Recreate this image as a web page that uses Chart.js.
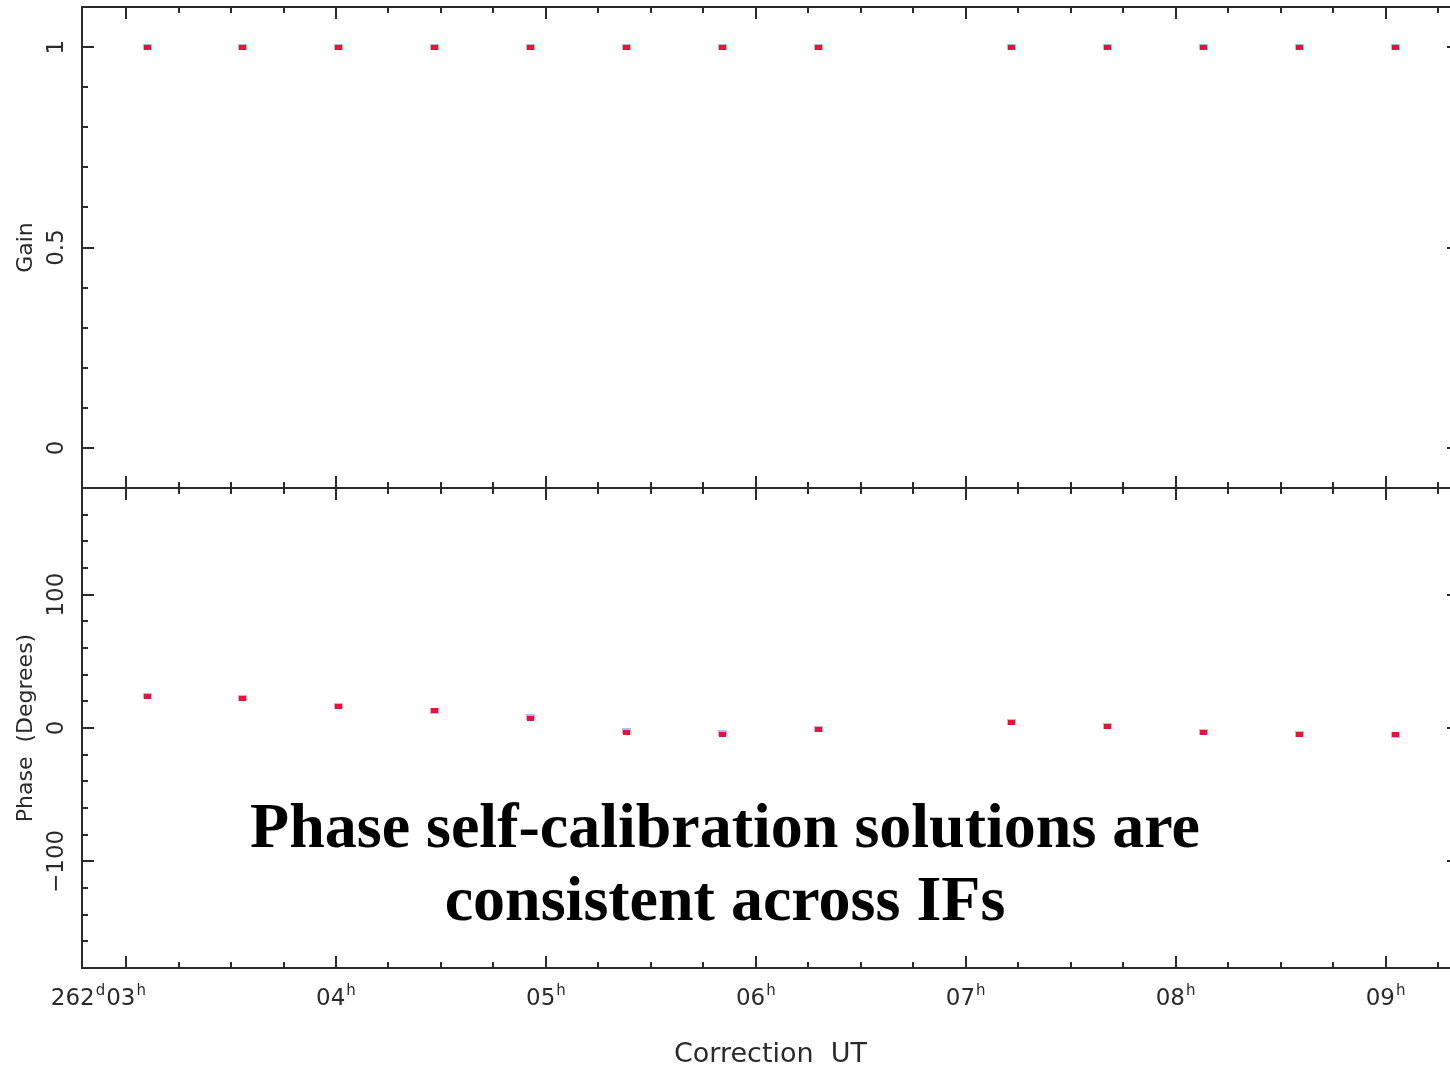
<!DOCTYPE html>
<html><head><meta charset="utf-8">
<script src="https://cdn.jsdelivr.net/npm/chart.js@4.4.1/dist/chart.umd.min.js"></script>
<style>
html,body{margin:0;padding:0;background:#fff;overflow:hidden;}
#wrap{position:relative;width:1450px;height:1067px;overflow:hidden;background:#fff;}
#wrap canvas{position:absolute;left:0;top:0;}
#cap{position:absolute;left:0;width:1450px;top:789px;text-align:center;font-family:"Liberation Serif","Times New Roman",serif;font-weight:bold;font-size:64px;line-height:73px;color:#000;}
</style></head>
<body>
<div id="wrap">
<canvas id="gainChart" width="1480" height="1067"></canvas>
<canvas id="phaseChart" width="1480" height="1067"></canvas>
<div id="cap">Phase self-calibration solutions are<br>consistent across IFs</div>
</div>
<script>
// ---- data (hours UT on day 262) ----
const times    = [3.100, 3.557, 4.014, 4.471, 4.929, 5.386, 5.843, 6.300, 7.219, 7.676, 8.133, 8.590, 9.048];
const gainIF1  = [1, 1, 1, 1, 1, 1, 1, 1, 1, 1, 1, 1, 1];
const gainIF2  = [1, 1, 1, 1, 1, 1, 1, 1, 1, 1, 1, 1, 1];
const phaseIF1 = [23.8, 22.3, 16.2, 12.6, 8.3, -2.5, -4.0, -0.8, 4.6, 1.8, -3.0, -4.2, -4.9];
const phaseIF2 = [23.5, 21.8, 16.0, 12.8, 7.5, -3.0, -4.5, -1.0, 4.3, 1.5, -3.2, -4.7, -4.7];

// ---- axis labelling ----
const hourTicks   = [3, 4, 5, 6, 7, 8, 9];
const hourLabels  = ['03', '04', '05', '06', '07', '08', '09'];
const dayPrefix   = '262';
const gainTicks   = [0, 0.5, 1];
const gainLabels  = ['0', '0.5', '1'];
const phaseTicks  = [-100, 0, 100];
const phaseLabels = ['\u2212100', '0', '100'];
const xTitle = 'Correction  UT';
const gainTitle = 'Gain';
const phaseTitle = 'Phase  (Degrees)';

const X_MIN = 2.79, X_MAX = 9.35;
const INK = '#2a2a2a';
const FONT = '"DejaVu Sans", sans-serif';

function toPts(ys){ return times.map((t,i)=>({x:t, y:ys[i]})); }

function markImg(w, h, color){
  const c = document.createElement('canvas');
  c.width = w; c.height = h;
  const g = c.getContext('2d');
  g.fillStyle = color; g.fillRect(0, 0, w, h);
  return c;
}
const redMark  = markImg(7, 5, '#ee1133');
const blueMark = markImg(9, 6, 'rgba(90,90,240,0.45)');

function framePlugin(cfg){
  return {
    id: 'frame_' + cfg.name,
    afterDraw(chart){
      const ctx = chart.ctx, a = chart.chartArea;
      const xs = chart.scales.x, ys = chart.scales.y;
      ctx.save();
      ctx.strokeStyle = INK; ctx.lineWidth = 2;
      ctx.strokeRect(a.left, a.top, a.right - a.left, a.bottom - a.top);
      ctx.beginPath();
      for (let k = Math.ceil(X_MIN*4); k <= Math.floor(X_MAX*4); k++){
        const px = Math.round(xs.getPixelForValue(k/4));
        const len = (k % 4 === 0) ? 12 : 6;
        ctx.moveTo(px, a.top); ctx.lineTo(px, a.top + len);
        ctx.moveTo(px, a.bottom); ctx.lineTo(px, a.bottom - len);
      }
      for (let k = cfg.kMin; k <= cfg.kMax; k++){
        const v = k * cfg.minor;
        const py = Math.round(ys.getPixelForValue(v));
        const len = (k % cfg.majorEvery === 0) ? 12 : 6;
        ctx.moveTo(a.left, py); ctx.lineTo(a.left + len, py);
        ctx.moveTo(a.right, py); ctx.lineTo(a.right - len, py);
      }
      ctx.stroke();

      ctx.fillStyle = INK;
      ctx.textAlign = 'center'; ctx.textBaseline = 'middle';
      ctx.font = '23px ' + FONT;
      cfg.ticks.forEach((v,i)=>{
        const py = ys.getPixelForValue(v);
        ctx.save(); ctx.translate(57, py); ctx.rotate(-Math.PI/2);
        ctx.fillText(cfg.labels[i], 0, 0); ctx.restore();
      });
      ctx.font = '22px ' + FONT;
      ctx.save(); ctx.translate(26, (a.top + a.bottom)/2); ctx.rotate(-Math.PI/2);
      ctx.fillText(cfg.title, 0, 0); ctx.restore();

      if (cfg.xLabels){
        ctx.textAlign = 'left'; ctx.textBaseline = 'alphabetic';
        const base = a.bottom + 37;
        hourTicks.forEach((h,i)=>{
          const px = xs.getPixelForValue(h);
          ctx.font = '23px ' + FONT; const w1 = ctx.measureText(hourLabels[i]).width;
          ctx.font = '15px ' + FONT; const w2 = ctx.measureText('h').width;
          const x0 = px - (w1 + 1 + w2)/2;
          ctx.font = '23px ' + FONT; ctx.fillText(hourLabels[i], x0, base);
          ctx.font = '15px ' + FONT; ctx.fillText('h', x0 + w1 + 1, base - 10);
          if (i === 0){
            ctx.font = '15px ' + FONT; const wd = ctx.measureText('d').width;
            ctx.fillText('d', x0 - 1 - wd, base - 10);
            ctx.font = '23px ' + FONT; const wp = ctx.measureText(dayPrefix).width;
            ctx.fillText(dayPrefix, x0 - 2 - wd - wp, base);
          }
        });
        ctx.font = '27px ' + FONT; ctx.textAlign = 'center';
        ctx.fillText(xTitle, (a.left + a.right)/2, a.bottom + 94);
      }
      ctx.restore();
    }
  };
}

function makeChart(id, d1, d2, yMin, yMax, padTop, padBottom, cfg){
  return new Chart(document.getElementById(id), {
    type: 'scatter',
    data: { datasets: [
      { data: toPts(d2), pointStyle: redMark, order: 1 },
      { data: toPts(d1), pointStyle: blueMark, order: 2 }
    ]},
    options: {
      responsive: false, animation: false, devicePixelRatio: 1,
      layout: { padding: { left: 82, right: 21, top: padTop, bottom: padBottom } },
      plugins: { legend: { display: false }, tooltip: { enabled: false } },
      scales: {
        x: { type: 'linear', display: false, min: X_MIN, max: X_MAX },
        y: { type: 'linear', display: false, min: yMin, max: yMax }
      }
    },
    plugins: [framePlugin(cfg)]
  });
}

makeChart('gainChart', gainIF1, gainIF2, -0.1, 1.1, 7, 1067 - 488,
  { name: 'g', kMin: -1, kMax: 11, minor: 0.1, majorEvery: 5, ticks: gainTicks, labels: gainLabels, title: gainTitle, xLabels: false });
makeChart('phaseChart', phaseIF1, phaseIF2, -180, 180, 488, 1067 - 968,
  { name: 'p', kMin: -9, kMax: 9, minor: 20, majorEvery: 5, ticks: phaseTicks, labels: phaseLabels, title: phaseTitle, xLabels: true });
</script>
</body></html>
